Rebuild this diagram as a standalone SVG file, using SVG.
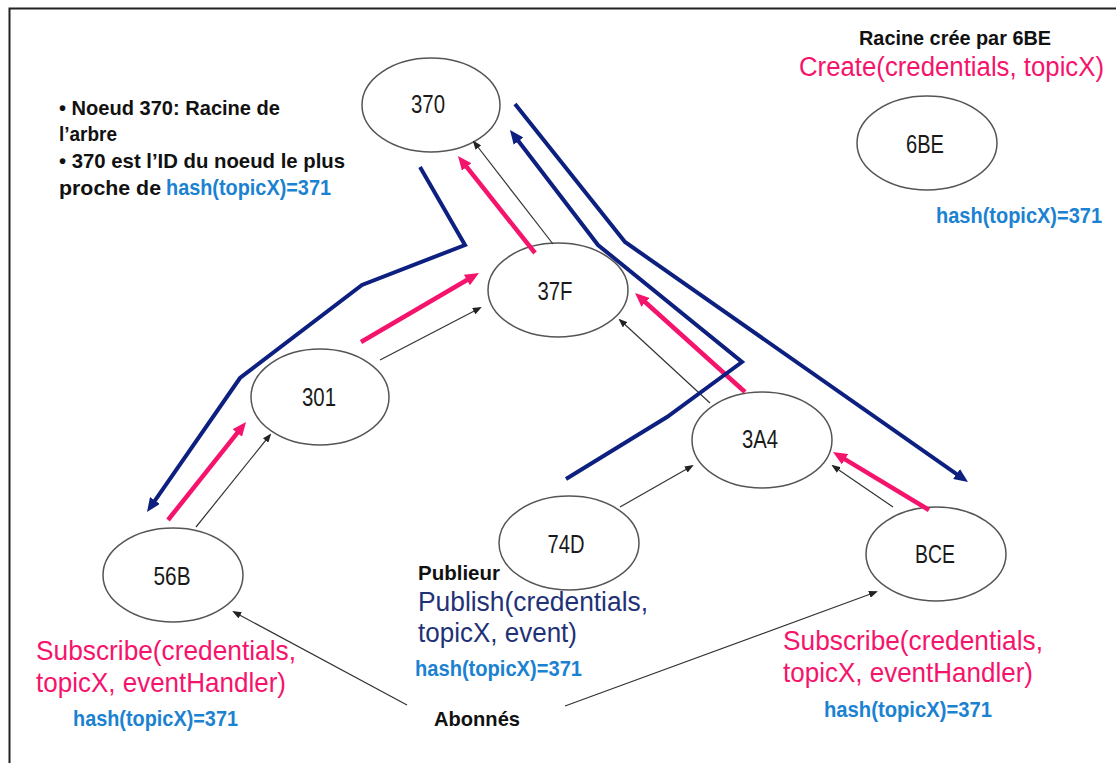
<svg xmlns="http://www.w3.org/2000/svg" width="1116" height="763" viewBox="0 0 1116 763">
  <style>
    .node ellipse { fill: #ffffff; stroke: #555555; stroke-width: 1.5; }
    .node text { font-family: "Liberation Sans", Arial, sans-serif; font-size: 25px; fill: #1a1a1a; text-anchor: middle; }
    .t { font-family: "Liberation Sans", Arial, sans-serif; }
    .b { font-weight: bold; }
    .note { font-size: 21px; fill: #111111; }
    .hash { font-size: 22px; font-weight: bold; fill: #1b82d1; }
    .pink { fill: #f5146c; }
    .navytxt { fill: #1f3276; }
    .big { font-size: 28px; }
    .route { fill: none; stroke: #0d2080; stroke-width: 4; stroke-linejoin: miter; }
    .msg { fill: none; stroke: #f5146c; stroke-width: 4.5; }
    .link { fill: none; stroke: #333333; stroke-width: 1.2; }
  </style>
  <defs>
    <marker id="headPink" markerUnits="userSpaceOnUse" viewBox="0 0 14 12" markerWidth="14" markerHeight="12" refX="8" refY="6" orient="auto">
      <path d="M0,0 L14,6 L0,12 z" fill="#f5146c"/>
    </marker>
    <marker id="headNavy" markerUnits="userSpaceOnUse" viewBox="0 0 14 12" markerWidth="14" markerHeight="12" refX="8" refY="6" orient="auto">
      <path d="M0,0 L14,6 L0,12 z" fill="#0d2080"/>
    </marker>
    <marker id="headBlack" markerUnits="userSpaceOnUse" viewBox="0 0 9 7" markerWidth="9" markerHeight="7" refX="7" refY="3.5" orient="auto">
      <path d="M0,0 L9,3.5 L0,7 z" fill="#222222"/>
    </marker>
  </defs>

  <!-- frame -->
  <rect x="9.5" y="8.5" width="1200" height="800" fill="#ffffff" stroke="#222222" stroke-width="2"/>

  <!-- nodes -->
  <g id="n370" class="node"><ellipse cx="431" cy="105" rx="69" ry="47"/><text x="428" y="113" textLength="34" lengthAdjust="spacingAndGlyphs">370</text></g>
  <g id="n37F" class="node"><ellipse cx="558" cy="290" rx="70" ry="47"/><text x="555" y="300" textLength="35" lengthAdjust="spacingAndGlyphs">37F</text></g>
  <g id="n301" class="node"><ellipse cx="320" cy="397" rx="69" ry="48"/><text x="319" y="406" textLength="34" lengthAdjust="spacingAndGlyphs">301</text></g>
  <g id="n3A4" class="node"><ellipse cx="762" cy="440" rx="70" ry="48"/><text x="760" y="448" textLength="36" lengthAdjust="spacingAndGlyphs">3A4</text></g>
  <g id="n56B" class="node"><ellipse cx="173" cy="575" rx="70" ry="47"/><text x="172" y="585" textLength="37" lengthAdjust="spacingAndGlyphs">56B</text></g>
  <g id="n74D" class="node"><ellipse cx="569" cy="543" rx="70" ry="47"/><text x="566" y="553" textLength="37" lengthAdjust="spacingAndGlyphs">74D</text></g>
  <g id="nBCE" class="node"><ellipse cx="936" cy="554" rx="70" ry="47"/><text x="935" y="563" textLength="40" lengthAdjust="spacingAndGlyphs">BCE</text></g>
  <g id="n6BE" class="node"><ellipse cx="927" cy="143" rx="70" ry="47"/><text x="925" y="153" textLength="38" lengthAdjust="spacingAndGlyphs">6BE</text></g>

  <!-- connectors -->
  <g id="connectors">
    <!-- tree links -->
    <line class="link" x1="196" y1="527" x2="270" y2="435" marker-end="url(#headBlack)"/>
    <line class="link" x1="380" y1="360" x2="480" y2="308" marker-end="url(#headBlack)"/>
    <line class="link" x1="553" y1="244" x2="474" y2="142" marker-end="url(#headBlack)"/>
    <line class="link" x1="710" y1="403" x2="620" y2="320" marker-end="url(#headBlack)"/>
    <line class="link" x1="620" y1="507" x2="692" y2="466" marker-end="url(#headBlack)"/>
    <line class="link" x1="893" y1="507" x2="833" y2="466" marker-end="url(#headBlack)"/>
    <line class="link" x1="407" y1="705" x2="234" y2="612" marker-end="url(#headBlack)"/>
    <line class="link" x1="565" y1="706" x2="876" y2="592" marker-end="url(#headBlack)"/>

    <!-- subscribe messages -->
    <line class="msg" x1="168" y1="520" x2="242.3" y2="426.7" marker-end="url(#headPink)"/>
    <line class="msg" x1="361" y1="342" x2="473.8" y2="276" marker-end="url(#headPink)"/>
    <line class="msg" x1="535" y1="253" x2="461.7" y2="160.7" marker-end="url(#headPink)"/>
    <line class="msg" x1="745" y1="392" x2="639.5" y2="297" marker-end="url(#headPink)"/>
    <line class="msg" x1="929" y1="510" x2="838.1" y2="455.1" marker-end="url(#headPink)"/>

    <!-- event routes -->
    <polyline class="route" points="420,167 465,245 362,285 240,378 150.4,507.1" marker-end="url(#headNavy)"/>
    <polyline class="route" points="566,479 667,417 742,362 598,245 513.6,134.8" marker-end="url(#headNavy)"/>
    <polyline class="route" points="515,104 625,242 963.1,478.6" marker-end="url(#headNavy)"/>
  </g>

  <!-- notes -->
  <g id="rootNote">
    <text class="t b note" x="59" y="115" textLength="221" lengthAdjust="spacingAndGlyphs">• Noeud 370: Racine de</text>
    <text class="t b note" x="59" y="141" textLength="58" lengthAdjust="spacingAndGlyphs">l’arbre</text>
    <text class="t b note" x="59" y="168" textLength="286" lengthAdjust="spacingAndGlyphs">• 370 est l’ID du noeud le plus</text>
    <text class="t b note" x="59" y="195" textLength="102" lengthAdjust="spacingAndGlyphs">proche de</text>
    <text class="t hash" x="166" y="195" textLength="165" lengthAdjust="spacingAndGlyphs">hash(topicX)=371</text>
  </g>

  <g id="createNote">
    <text class="t b note" x="859" y="45" font-size="20" textLength="192" lengthAdjust="spacingAndGlyphs">Racine crée par 6BE</text>
    <text class="t pink" x="799" y="76" font-size="27" textLength="305" lengthAdjust="spacingAndGlyphs">Create(credentials, topicX)</text>
    <text class="t hash" x="936" y="223" textLength="166" lengthAdjust="spacingAndGlyphs">hash(topicX)=371</text>
  </g>

  <g id="publishNote">
    <text class="t b note" x="418" y="580" font-size="20" textLength="82" lengthAdjust="spacingAndGlyphs">Publieur</text>
    <text class="t navytxt" x="418" y="611" font-size="27" textLength="230" lengthAdjust="spacingAndGlyphs">Publish(credentials,</text>
    <text class="t navytxt" x="418" y="642" font-size="27" textLength="159" lengthAdjust="spacingAndGlyphs">topicX, event)</text>
    <text class="t hash" x="415" y="676" textLength="167" lengthAdjust="spacingAndGlyphs">hash(topicX)=371</text>
  </g>

  <g id="subscribeLeft">
    <text class="t pink big" x="36" y="660" textLength="260" lengthAdjust="spacingAndGlyphs">Subscribe(credentials,</text>
    <text class="t pink big" x="36" y="692" textLength="250" lengthAdjust="spacingAndGlyphs">topicX, eventHandler)</text>
    <text class="t hash" x="73" y="726" textLength="165" lengthAdjust="spacingAndGlyphs">hash(topicX)=371</text>
  </g>

  <g id="subscribeRight">
    <text class="t pink big" x="783" y="650" textLength="260" lengthAdjust="spacingAndGlyphs">Subscribe(credentials,</text>
    <text class="t pink big" x="783" y="682" textLength="250" lengthAdjust="spacingAndGlyphs">topicX, eventHandler)</text>
    <text class="t hash" x="824" y="717" textLength="168" lengthAdjust="spacingAndGlyphs">hash(topicX)=371</text>
  </g>

  <text id="subscribers" class="t b note" x="434" y="726" textLength="86" lengthAdjust="spacingAndGlyphs">Abonnés</text>
</svg>
